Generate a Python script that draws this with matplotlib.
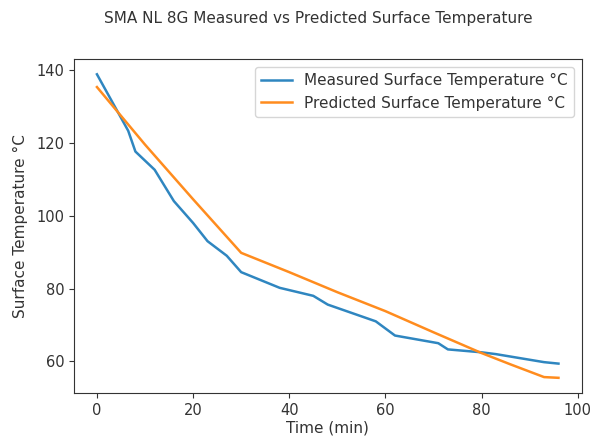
import matplotlib
matplotlib.use("Agg")
import matplotlib.pyplot as plt

time_measured = [0, 6.5, 8, 12, 16, 20, 23, 27, 30, 38, 45, 48, 58, 62, 71, 73, 80, 83, 93, 96]
temp_measured = [138.8, 123.3, 117.6, 112.6, 104, 98, 93, 89, 84.5, 80.2, 78, 75.6, 71, 67.1, 65, 63.3, 62.5, 62, 59.8, 59.4]

time_predicted = [0, 10, 20, 30, 40, 50, 60, 70, 80, 86, 93, 96]
temp_predicted = [135.3, 119.5, 104.5, 89.8, 84.5, 79, 73.8, 68, 62.3, 59.2, 55.7, 55.5]

title = "SMA NL 8G Measured vs Predicted Surface Temperature"
x_label = "Time (min)"
y_label = "Surface Temperature °C"
labels = ["Measured Surface Temperature °C", "Predicted Surface Temperature °C"]

plt.rcParams['font.family'] = ['DejaVu Sans']
fig = plt.figure(figsize=(5.91, 4.37), dpi=100)
ax = fig.add_axes([0.125, 0.1007, 0.859, 0.764])
ax.plot(time_measured, temp_measured, color='#2f86c0', label=labels[0], linewidth=1.8)
ax.plot(time_predicted, temp_predicted, color='#ff8c1e', label=labels[1], linewidth=1.8)
ax.set_xticks([0, 20, 40, 60, 80, 100])
ax.set_yticks([60, 80, 100, 120, 140])
ax.tick_params(labelsize=10.5, colors='#333333')
for s in ax.spines.values():
    s.set_color('#333333')
ax.set_xlabel(x_label, fontsize=11, color='#333333', labelpad=2)
ax.set_ylabel(y_label, fontsize=11, color='#333333', labelpad=6)
ax.legend(loc='upper right', fontsize=11, labelcolor='#333333')
fig.text(0.538, 0.957, title, fontsize=11, ha='center', va='center', color='#333333')
fig.savefig("out.png", dpi=100)
